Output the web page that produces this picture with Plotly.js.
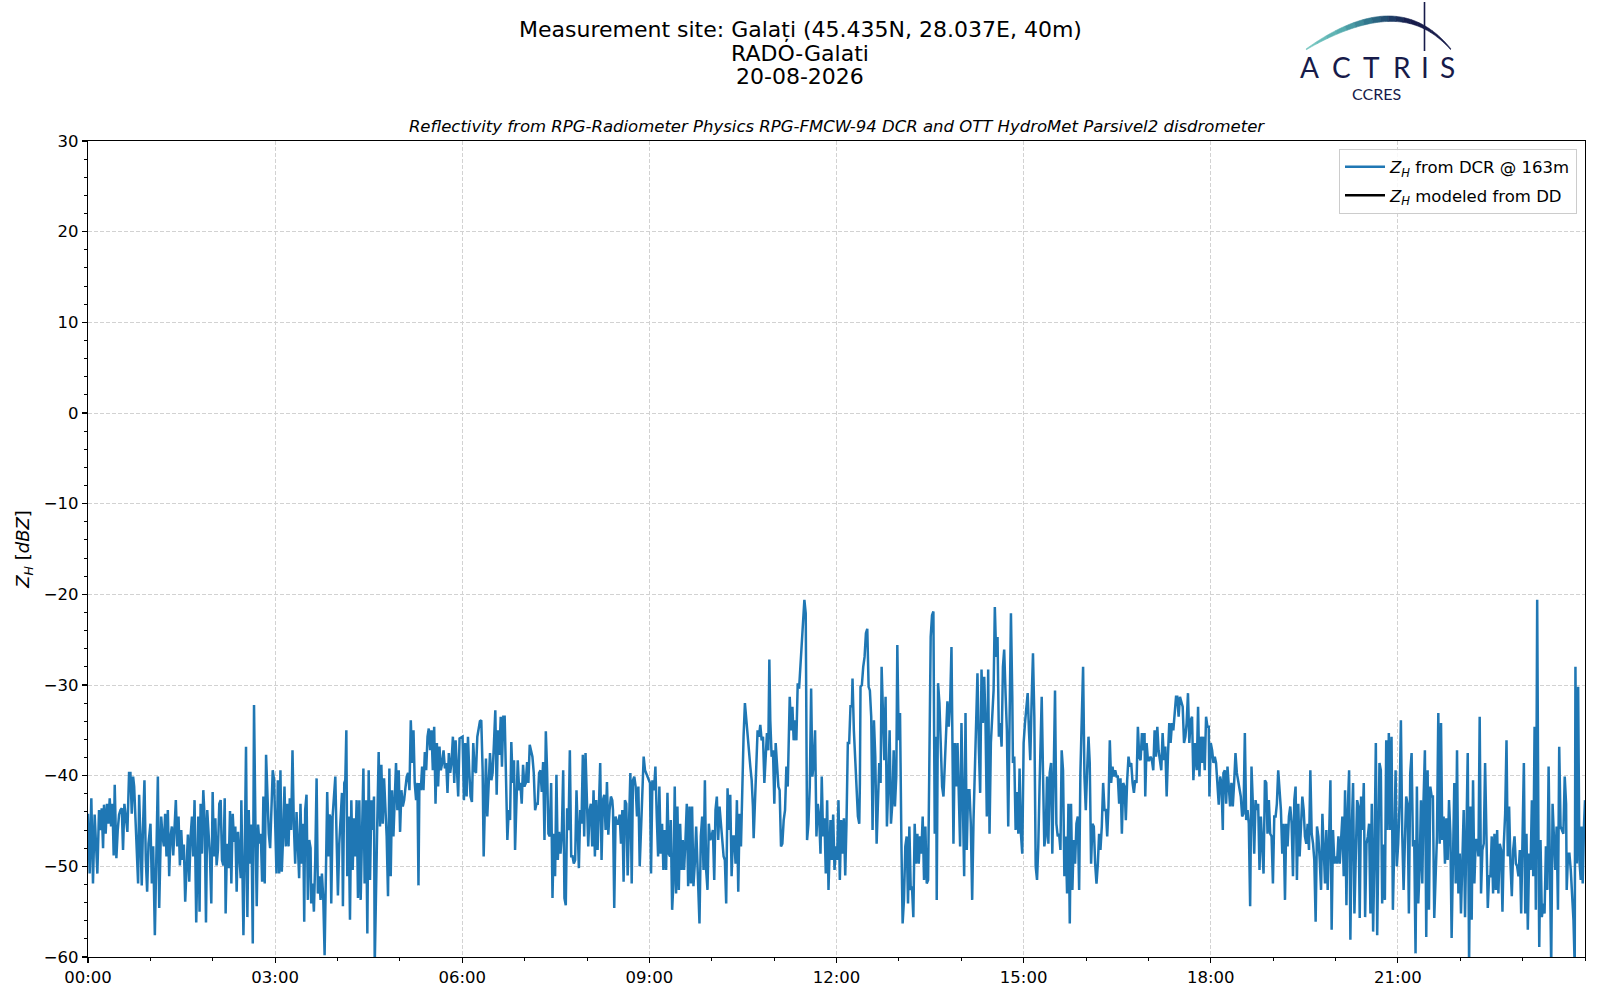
<!DOCTYPE html>
<html>
<head>
<meta charset="utf-8">
<script src="https://cdn.plot.ly/plotly-3.0.1.min.js"></script>
<style>
html,body{margin:0;padding:0;background:#ffffff;}
#chart{width:1600px;height:1000px;}
</style>
</head>
<body>
<div id="chart"></div>
<script>
// ---------------- DATA ----------------
// time of each sample in minutes after 00:00 UTC
const timeMinutes = [
0,1.6,3.2,4.8,6.4,8.0,9.0,10.6,11.9,13.2,14.5,15.4,17.0,18.3,19.6,20.9,22.2,23.5,24.7,25.7,
27.3,28.6,29.9,31.2,32.5,33.7,35.0,36.3,37.9,39.5,40.8,42.1,43.4,44.4,45.6,47.2,48.2,49.2,50.5,51.7,
52.7,54.3,55.6,56.9,58.2,60.1,61.4,62.7,64.3,65.6,67.2,68.5,70.4,71.7,73.0,74.2,75.5,76.8,78.1,79.4,
80.7,82.0,83.2,84.5,85.8,87.1,88.4,89.7,91.0,92.2,93.5,94.8,96.1,97.4,98.7,100.0,101.2,102.5,104.1,106.1,
107.3,108.3,109.6,110.9,112.2,113.5,114.7,116.0,117.3,118.6,119.9,121.2,122.5,123.7,125.0,126.3,127.6,128.9,130.2,131.5,
132.4,133.7,135.3,136.6,137.9,139.2,140.5,141.7,143.0,144.3,145.6,146.9,147.5,149.5,150.7,152.0,153.3,154.6,155.9,157.2,
158.5,159.7,161.0,162.3,163.6,164.9,166.2,167.5,168.7,170.0,171.3,172.6,173.9,175.2,176.5,177.7,179.0,
181.3,182.6,183.9,185.1,186.4,187.7,189.0,190.3,191.6,192.9,194.1,195.4,196.7,198.0,199.3,200.6,201.9,203.1,204.4,205.7,
207.0,208.0,208.9,210.2,211.5,212.8,214.1,214.7,216.0,217.3,218.6,219.9,221.1,222.4,223.7,225.0,226.3,227.6,228.9,230.1,
231.4,232.1,233.0,234.0,235.3,236.6,237.9,239.1,240.4,241.7,243.0,244.3,245.2,246.5,247.5,248.5,249.4,250.7,252.0,253.3,
254.6,255.9,257.1,258.4,259.7,261.0,262.3,263.6,264.9,266.1,267.4,268.7,270.0,271.3,272.6,273.8,275.1,275.8,277.1,278.3,
279.6,280.9,282.2,283.5,284.8,286.1,287.3,288.6,289.9,291.2,292.5,293.8,295.1,296.3,297.6,298.9,300.2,301.5,302.8,304.1,
305.3,306.6,307.9,309.2,310.5,311.8,313.1,314.3,315.6,316.9,317.9,318.8,320.1,321.4,322.7,324.0,325.3,326.6,327.8,329.1,
330.4,331.7,333.0,334.3,335.6,336.8,338.1,339.4,340.7,342.0,343.3,344.6,345.8,347.1,348.4,349.7,351.0,352.3,353.6,354.8,
356.1,357.4,
360.3,361.6,362.9,364.2,365.5,366.7,368.0,369.3,370.6,371.9,373.2,374.5,375.7,377.0,378.3,379.6,380.6,381.9,382.8,384.1,
385.4,386.7,388.0,389.2,390.5,391.8,393.1,394.4,395.7,397.0,398.2,399.5,400.8,402.1,403.4,404.7,406.0,407.2,408.5,409.8,
410.8,412.1,413.4,414.7,415.9,417.2,418.5,419.8,421.1,422.4,423.6,424.9,426.2,427.5,428.8,430.1,431.4,432.6,433.9,435.2,
436.5,437.8,439.1,440.4,441.6,442.9,444.2,445.5,446.8,448.1,449.3,450.6,451.9,453.2,454.5,455.8,457.1,458.3,459.6,460.9,
462.2,463.5,464.8,466.1,467.3,468.6,469.9,471.2,472.2,473.5,474.7,476.0,477.3,478.6,479.9,481.2,482.5,483.7,485.0,486.3,
487.6,488.9,490.2,491.5,492.7,494.0,495.3,496.6,497.9,499.2,500.5,501.7,503.0,504.3,505.0,506.2,507.5,508.8,510.1,511.4,
512.7,514.0,515.2,516.5,517.8,519.1,520.4,521.7,523.0,524.2,525.5,526.8,528.1,529.4,530.7,532.0,533.2,534.5,535.8,
540.6,541.6,542.9,544.5,545.8,547.1,548.4,549.6,550.9,552.2,553.5,554.8,556.1,557.4,558.6,559.9,560.6,561.9,563.1,564.4,
565.7,567.0,568.3,569.6,570.9,572.1,573.4,574.7,576.0,577.3,578.6,579.9,581.1,582.4,583.7,585.0,586.3,587.6,588.2,589.5,
590.8,592.1,593.4,594.6,595.9,597.2,598.5,599.8,601.1,602.4,603.6,604.9,606.2,607.5,608.8,610.1,611.4,612.6,613.9,615.2,
616.5,617.8,619.1,620.4,621.6,622.9,624.2,625.5,626.8,628.1,629.4,630.6,631.9,633.2,634.5,635.8,637.1,638.4,639.6,640.3,
641.6,642.9,644.1,645.4,646.7,648.0,649.3,650.6,651.8,653.1,654.4,655.4,656.3,657.6,658.9,660.2,661.5,662.8,664.1,665.3,
666.6,667.9,669.2,670.5,671.8,673.1,674.3,675.0,676.3,677.6,678.8,680.1,681.4,682.7,684.0,685.3,686.6,687.8,689.1,690.4,
691.7,693.0,694.3,695.6,696.8,698.1,699.4,700.7,702.0,703.3,704.6,705.8,707.1,708.4,709.7,711.0,712.3,
714.2,715.5,716.8,718.1,719.4,720.6,721.9,723.2,724.5,725.8,727.1,728.4,729.6,730.9,732.2,733.5,734.8,735.4,736.7,738.0,
739.3,740.6,741.9,742.5,743.1,744.4,745.7,747.0,748.3,749.6,750.9,752.1,753.4,754.7,756.0,757.3,758.6,759.9,761.1,762.4,
763.4,764.7,766.0,767.2,768.5,769.8,771.1,772.4,773.7,775.0,776.2,777.5,778.5,779.8,781.1,782.4,783.6,784.9,786.2,787.5,
788.8,790.1,791.4,792.6,793.9,795.2,796.5,797.8,799.1,800.4,801.6,802.9,804.2,805.5,806.8,808.1,809.4,810.6,811.9,813.2,
814.5,815.8,816.4,817.7,819.0,820.3,821.6,822.9,824.1,825.4,826.7,828.0,829.3,830.6,831.9,832.5,833.8,835.1,836.4,837.6,
838.9,840.2,841.5,842.8,844.1,845.3,846.6,847.9,849.2,850.5,851.8,853.1,854.3,855.6,856.9,858.2,859.5,860.8,862.1,863.3,
864.6,865.9,867.2,868.5,869.8,871.1,872.3,873.6,874.9,876.2,877.5,878.8,880.1,881.3,882.6,883.9,885.2,886.5,887.8,889.1,
889.7,891.0,892.3,893.6,894.9,896.1,897.4,898.7,900.0,901.3,902.6,903.9,905.1,906.4,907.7,909.0,910.3,911.6,912.9,914.1,
915.4,916.7,917.4,918.6,919.9,921.2,922.5,923.8,925.1,926.4,927.6,928.9,930.2,931.5,932.8,934.1,935.4,936.6,937.9,939.2,
940.5,941.8,943.1,944.4,945.6,946.9,948.2,949.5,950.8,952.1,953.4,954.6,955.9,957.2,958.5,959.8,961.1,962.4,963.6,964.9,
966.2,967.5,968.8,970.1,971.4,972.6,973.9,975.2,976.5,977.8,979.1,980.4,981.6,982.9,984.2,985.5,986.8,988.1,989.4,990.6,
991.9,993.2,994.5,995.8,997.1,998.3,999.6,1000.9,1002.2,1003.5,1004.8,1006.1,1007.3,1008.6,1009.9,1011.2,1012.5,1013.8,1015.1,1016.3,
1017.0,1018.3,1019.6,1020.8,1022.1,1023.4,1024.7,1026.0,1027.3,1028.6,1029.8,1031.1,1032.4,1033.7,1035.0,1036.3,1037.6,1038.8,1040.1,1041.4,
1042.7,1044.0,1045.3,1046.6,1047.8,1049.1,1050.4,1051.7,1053.0,1054.3,1055.6,1056.8,1058.1,1059.4,1060.7,1062.0,1063.3,1064.6,
1065.2,1066.5,1067.8,1069.1,1070.4,1071.6,1072.9,1074.2,1075.5,1076.8,1078.1,1078.7,1080.0,1081.3,1082.6,1083.9,1085.1,1086.4,1087.7,1089.0,
1090.3,1091.6,1092.2,1093.5,1094.8,1096.1,1097.4,1098.6,1099.9,1101.2,1102.5,1103.8,1105.1,1106.4,1107.6,1108.9,1110.2,1111.5,1112.8,1114.1,
1115.4,1116.6,1117.9,1119.2,1120.5,1121.8,1123.1,1124.4,1125.6,1126.9,1128.2,1129.5,1130.8,1132.1,1133.4,1134.6,1135.9,1137.2,1138.5,1139.8,
1141.1,1142.4,1143.6,1144.9,1146.2,1147.5,1148.8,1150.1,1151.4,1152.6,1153.9,1155.2,1156.5,1157.8,1159.1,1160.4,1161.6,1162.9,1164.2,1165.5,
1166.8,1168.1,1169.4,1170.6,1171.9,1173.2,1174.5,1175.8,1177.1,1178.4,1179.6,1180.9,1182.2,1183.5,1184.8,1186.1,1187.4,1188.6,1189.9,1191.2,
1192.5,1193.8,1195.1,1196.3,1197.6,1198.9,1200.2,1201.5,1202.8,1204.1,1205.3,1206.6,1207.9,1209.2,1210.5,1211.8,1213.1,1214.3,1215.6,1216.9,
1218.2,1219.5,1220.8,1222.1,1223.3,1224.6,1225.9,1227.2,1228.5,1229.8,1231.1,1232.3,1233.6,1234.9,1236.2,1237.5,1238.8,1240.1,1241.4,
1242.3,1243.6,1244.9,1246.2,1247.5,1248.8,1250.0,1251.3,1252.6,1253.9,1255.2,1256.5,1257.8,1259.0,1260.3,1261.6,1262.9,1264.2,1265.5,1266.7,
1268.0,1269.3,1270.6,1271.9,1273.2,1274.5,1275.7,1277.0,1278.3,1279.6,1280.9,1282.2,1283.5,1284.7,1286.0,1287.3,1288.6,1289.9,1291.2,1292.5,
1293.7,1295.0,1296.3,1297.6,1298.9,1300.2,1301.5,1302.7,1304.0,1305.3,1306.6,1307.9,1309.2,1310.5,1311.7,1313.0,1314.3,1315.6,1316.9,1318.2,
1319.5,1320.7,1322.0,1323.3,1324.6,1325.9,1327.2,1328.5,1329.7,1331.0,1332.3,1333.6,1334.9,1336.2,1337.5,1338.7,1340.0,1341.3,1342.6,1343.9,
1345.2,1346.5,1347.7,1349.0,1350.3,1351.6,1352.9,1354.2,1355.5,1356.7,1358.0,1359.3,1360.6,1361.9,1363.2,1364.5,1365.7,1367.0,1368.3,1369.6,
1370.9,1372.2,1373.5,1374.7,1376.0,1377.3,1378.6,1379.9,1381.2,1382.5,1383.7,1385.0,1386.3,1387.6,1388.9,1390.2,1391.5,1392.7,1394.0,1395.3,
1396.0,1397.2,1398.5,1399.8,1401.1,1402.4,1403.7,1405.0,1406.2,1407.5,1408.8,1410.1,1411.4,1412.7,1414.0,1415.2,1416.5,
1419.2,1420.5,1421.8,1422.4,1423.7,1425.0,1426.3,1427.6,1428.9,1430.1,1430.8,1432.1,1433.4,1434.6,1435.9,1436.6,1437.8,1439.1,1440.0
];

// Z_H reflectivity from the cloud radar at 163 m [dBZ]
const zhDCR = [
-44.2,-50.8,-42.5,-51.9,-44.3,-49.7,-50.8,-43.8,-46.0,-43.6,-48.0,-43.2,-46.4,-43.1,-45.3,-42.5,-45.6,-43.1,-48.8,-41.0,
-49.1,-46.0,-44.3,-43.8,-43.6,-48.2,-43.1,-44.5,-46.2,-39.7,-39.7,-44.2,-40.1,-41.2,-44.9,-49.7,-51.9,-42.1,-49.3,-52.1,
-46.5,-40.5,-49.3,-52.8,-47.5,-45.3,-51.9,-47.8,-57.6,-47.5,-40.1,-54.6,-44.5,-46.7,-47.8,-44.2,-48.9,-43.8,-51.1,-46.7,
-45.6,-48.8,-45.8,-42.7,-47.8,-44.5,-49.9,-46.0,-49.3,-47.6,-53.9,-50.4,-46.5,-51.7,-46.7,-44.5,-48.9,-42.7,-56.2,-44.5,
-55.0,-43.1,-48.6,-41.6,-44.7,-56.2,-43.8,-46.4,-48.8,-54.1,-41.8,-48.9,-44.7,-49.9,-48.2,-43.1,-42.7,-49.3,-49.9,-42.5,
-55.2,-47.5,-50.2,-43.9,-51.9,-44.2,-47.3,-45.6,-52.8,-46.2,-48.9,-51.3,-42.7,-57.6,-49.3,-36.8,-55.6,-43.8,-49.7,-45.4,
-58.5,-32.2,-44.9,-54.4,-45.4,-47.5,-46.4,-51.7,-42.3,-51.9,-37.7,-43.2,-46.4,-48.0,-42.3,-39.4,-40.5,
-50.8,-40.5,-50.8,-39.4,-50.6,-46.7,-41.2,-47.8,-43.1,-47.8,-42.5,-46.0,-37.2,-45.3,-49.7,-44.0,-48.2,-51.3,-43.1,-49.7,
-45.3,-56.1,-43.8,-42.1,-53.7,-47.1,-48.0,-54.1,-51.9,-55.0,-49.3,-40.3,-53.0,-51.1,-53.7,-50.8,-53.5,-59.8,-50.4,-41.8,
-48.9,-44.3,-44.5,-54.1,-44.5,-42.7,-40.1,-46.7,-53.2,-47.5,-44.5,-41.9,-54.4,-40.8,-40.5,-35.0,-51.1,-44.5,-55.9,-42.7,
-50.4,-44.7,-48.9,-42.7,-53.5,-42.7,-53.7,-46.4,-39.2,-51.9,-42.7,-57.4,-39.4,-51.5,-42.7,-46.0,-42.3,-61.0,-50.8,-44.9,
-37.4,-45.6,-38.8,-45.3,-40.3,-43.1,-46.7,-53.3,-39.2,-51.1,-41.6,-46.7,-40.8,-38.6,-43.8,-39.4,-46.2,-41.6,-43.4,-42.7,
-41.4,-40.1,-39.7,-41.6,-33.9,-38.6,-35.0,-40.8,-42.7,-40.8,-52.1,-40.8,-41.6,-39.0,-41.6,-37.4,-39.4,-35.7,-34.8,-37.2,
-35.0,-39.4,-34.6,-43.1,-36.4,-41.2,-36.8,-39.4,-38.6,-37.2,-39.2,-38.6,-41.9,-37.5,-39.7,-38.5,-35.7,-40.8,-36.1,-39.4,
-42.3,-35.9,
-35.7,-42.7,-36.4,-42.3,-35.7,-39.4,-42.3,-42.9,-36.4,-39.4,-39.7,-35.7,-35.0,-34.0,-33.9,-39.4,-48.9,-43.1,-38.1,-44.5,
-39.7,-37.5,-40.5,-39.7,-36.4,-32.8,-42.1,-35.0,-37.7,-33.5,-39.0,-33.5,-33.5,-39.0,-47.1,-43.8,-44.9,-36.3,-40.8,-38.3,
-48.2,-43.1,-38.3,-41.6,-40.8,-43.1,-38.8,-41.2,-40.8,-38.5,-40.8,-36.6,-37.5,-37.9,-39.7,-43.8,-43.1,-43.1,-39.7,-39.4,
-41.8,-38.5,-47.1,-35.1,-39.4,-46.4,-46.7,-40.8,-53.5,-46.4,-51.1,-39.9,-49.3,-46.2,-48.6,-46.4,-39.4,-53.5,-54.3,-43.6,
-46.0,-37.2,-48.9,-48.9,-49.7,-49.3,-41.6,-47.5,-50.2,-43.8,-45.3,-37.7,-46.7,-37.5,-43.8,-47.8,-43.8,-43.1,-47.8,-41.6,
-48.9,-42.7,-48.2,-41.9,-38.6,-49.3,-42.7,-42.1,-46.0,-40.7,-46.5,-43.8,-42.3,-42.7,-43.8,-54.6,-44.5,-45.3,-45.3,-44.3,
-47.5,-43.8,-51.7,-42.7,-43.1,-51.0,-43.8,-39.7,-51.9,-40.5,-40.1,-41.2,-44.5,-41.2,-50.0,-45.6,-43.8,-37.9,-39.4,
-40.8,-50.8,-40.5,-41.6,-39.0,-44.5,-48.9,-41.2,-48.6,-45.3,-50.4,-46.0,-50.4,-41.9,-48.6,-48.9,-44.9,-54.8,-51.9,-41.2,
-53.0,-43.4,-52.6,-45.3,-50.4,-47.1,-50.4,-47.1,-43.1,-52.2,-43.4,-51.9,-43.4,-52.2,-49.7,-45.6,-50.4,-53.7,-56.3,-46.7,
-44.5,-50.4,-40.5,-50.4,-52.6,-45.3,-47.1,-46.7,-46.0,-51.5,-43.8,-42.3,-47.1,-43.4,-45.3,-46.7,-48.9,-49.3,-54.1,-41.4,
-46.0,-42.1,-51.1,-46.7,-46.7,-49.7,-42.7,-52.8,-44.2,-47.8,-40.8,-35.7,-32.0,-33.9,-35.7,-37.9,-39.0,-40.5,-43.4,-46.9,
-42.3,-38.6,-35.0,-35.7,-34.4,-36.1,-35.7,-40.8,-37.9,-35.3,-37.2,-27.2,-33.9,-37.9,-37.2,-43.1,-36.4,-38.6,-41.2,-41.6,
-47.8,-47.5,-44.9,-43.8,-39.0,-41.2,-35.0,-31.3,-35.0,-32.4,-36.1,-33.9,-36.1,-29.8,-30.4,-27.6,-25.8,-22.1,-20.6,-22.1,
-47.1,-45.3,-41.2,-30.4,-40.1,-38.6,-35.0,-46.7,-43.1,-44.5,-48.6,-40.1,-46.7,-44.7,-50.8,-42.7,-52.6,
-44.9,-49.3,-44.3,-50.4,-47.8,-49.3,-42.7,-51.5,-44.9,-48.6,-44.7,-51.0,-45.3,-36.4,-36.4,-32.2,-32.4,-29.3,-35.0,-37.9,
-40.8,-44.5,-45.3,-40.8,-30.2,-30.0,-28.0,-26.9,-24.3,-23.8,-30.2,-30.6,-33.5,-46.0,-33.9,-37.9,-47.5,-41.2,-38.6,-40.8,
-28.0,-33.1,-38.3,-31.3,-45.6,-41.2,-35.0,-45.3,-43.1,-37.2,-43.4,-40.1,-25.6,-36.1,-33.1,-47.1,-56.3,-53.7,-47.8,-46.7,
-54.1,-45.6,-52.6,-52.2,-55.6,-45.3,-49.7,-46.4,-49.7,-46.7,-48.6,-44.5,-51.5,-45.6,-51.9,-51.5,-32.0,-24.7,-22.3,-21.9,
-46.4,-35.7,-53.7,-29.8,-32.0,-36.4,-41.2,-42.3,-38.6,-34.6,-31.8,-34.6,-32.0,-25.8,-37.9,-47.5,-36.4,-41.2,-36.4,-42.7,
-47.8,-34.2,-41.6,-51.1,-33.1,-48.2,-41.6,-41.6,-45.3,-53.7,-44.9,-39.4,-32.8,-28.7,-36.8,-41.9,-28.3,-34.2,-29.1,-33.9,
-44.5,-28.3,-46.4,-36.4,-33.5,-30.6,-21.4,-26.9,-24.7,-35.7,-34.2,-36.8,-28.0,-26.1,-30.9,-35.0,-45.6,-33.9,-22.1,-31.3,
-38.6,-37.9,-46.0,-41.8,-46.4,-39.2,-46.4,-48.6,-36.4,-34.2,-32.0,-30.9,-35.0,-38.3,-31.7,-26.5,-33.5,-50.0,-51.5,-47.8,
-40.8,-33.5,-31.3,-39.4,-47.8,-46.7,-40.1,-47.5,-39.7,-38.6,-48.6,-40.1,-30.6,-45.3,-46.7,-46.4,-48.2,-37.2,-39.4,-51.1,
-46.7,-53.0,-43.1,-56.3,-43.1,-52.6,-47.1,-49.7,-45.3,-44.5,-52.6,-39.7,-34.2,-28.0,-40.1,-43.8,-39.4,-35.7,-38.6,-49.7,
-45.3,-45.6,-49.7,-51.9,-49.7,-46.4,-48.2,-45.6,-40.8,-43.8,-43.8,-46.7,-43.4,-36.1,-40.8,-39.0,-40.1,-39.4,-40.1,-40.1,
-43.1,-40.3,-46.4,-40.8,-41.2,-44.9,-40.5,-37.9,-39.0,-38.6,-40.8,-41.9,-40.5,-40.8,-34.6,-37.9,-38.3,-35.3,-37.2,-35.3,
-42.3,-36.4,-38.3,-38.3,-37.9,-38.3,-39.4,-35.0,-37.9,-34.6,-37.2,-38.3,-39.4,-35.3,-38.3,-36.8,-42.3,-37.9,-34.2,-36.4,
-34.2,-35.0,-33.1,-31.3,-31.3,-33.5,-31.3,-32.0,-32.4,-36.4,-35.7,-34.2,-30.9,-36.4,-33.9,-33.5,-40.5,-36.4,
-37.9,-39.4,-32.4,-40.1,-35.7,-38.6,-35.7,-39.4,-33.5,-34.6,-34.6,-42.3,-36.4,-37.2,-38.6,-37.9,-38.6,-41.6,-43.2,-40.1,
-40.8,-46.0,-39.7,-39.4,-43.1,-39.0,-41.6,-43.4,-40.8,-43.4,-40.8,-37.5,-39.7,-40.8,-41.6,-42.3,-44.5,-44.2,-35.3,-44.9,
-43.8,-45.3,-54.4,-39.0,-43.1,-48.6,-42.7,-43.8,-43.1,-50.4,-44.5,-48.2,-50.8,-40.5,-40.8,-46.4,-42.7,-46.4,-46.7,-51.9,
-44.5,-44.5,-43.1,-39.4,-41.2,-43.8,-48.6,-45.3,-53.7,-45.3,-47.8,-44.5,-43.4,-45.3,-51.1,-42.7,-41.2,-51.5,-43.1,-48.9,
-45.6,-42.3,-43.8,-46.7,-47.5,-45.3,-48.2,-39.4,-46.4,-47.5,-49.3,-56.1,-45.6,-46.7,-49.3,-52.6,-44.2,-47.5,-51.9,-46.0,
-52.6,-47.1,-40.5,-57.0,-46.0,-49.7,-48.9,-49.7,-46.7,-49.7,-46.7,-44.5,-51.1,-41.6,-54.3,-43.8,-39.4,-58.1,-46.0,-40.8,
-55.2,-48.6,-42.7,-43.4,-55.7,-42.3,-46.0,-40.8,-55.6,-47.5,-46.7,-45.3,-55.2,-43.1,-57.2,-48.6,-36.4,-57.6,-43.1,
-38.6,-39.4,-54.1,-47.6,-53.7,-36.1,-46.0,-35.3,-46.0,-35.7,-54.8,-47.8,-39.4,-50.0,-47.5,-43.1,-33.9,-46.4,-52.6,-47.5,
-42.3,-43.1,-55.2,-39.7,-37.5,-47.8,-47.1,-59.6,-41.2,-54.1,-50.4,-42.7,-51.9,-42.7,-37.2,-57.8,-39.4,-54.8,-41.2,-42.3,
-42.3,-55.7,-50.8,-46.7,-33.1,-47.5,-34.2,-47.1,-44.5,-49.7,-44.7,-49.3,-42.7,-46.4,-57.9,-46.7,-40.8,-51.9,-37.2,-53.0,
-48.6,-55.2,-47.5,-43.8,-55.6,-46.0,-37.5,-61.0,-43.4,-55.9,-40.5,-51.9,-47.1,-47.1,-48.9,-33.5,-53.0,-48.2,-47.5,-38.6,
-44.9,-54.6,-51.1,-51.1,-46.7,-53.0,-46.4,-52.6,-46.0,-53.0,-47.5,-48.2,-55.0,-47.5,-44.2,-36.1,-48.9,-43.4,-49.7,-53.3,
-48.2,-46.7,-49.7,-50.0,-51.1,-48.2,-55.2,-43.8,-38.6,-55.2,-46.4,-57.0,-48.6,-50.4,-42.7,-51.1,-34.6,-54.8,-20.6,-48.6,
-58.9,-47.1,-55.6,-54.1,-55.2,-47.8,-52.6,-39.0,-54.1,-61.0,-43.1,-46.0,-50.4,-45.6,-54.8,-36.8,-45.6,
-46.4,-40.1,-43.1,-52.6,-48.6,-48.6,-50.4,-52.6,-55.9,-61.0,-28.0,-49.7,-30.2,-49.3,-51.5,-45.6,-51.9,-45.3,-42.7
];

// Z_H modelled from the disdrometer drop-size distribution: no samples on this day
const ddTimeMinutes = [];
const zhDD = [];

const xTickHours = [0, 3, 6, 9, 12, 15, 18, 21];
const xTickLabels = ['00:00', '03:00', '06:00', '09:00', '12:00', '15:00', '18:00', '21:00'];
const yRange = [-60, 30];

const titleLines = ['Measurement site: Galați (45.435N, 28.037E, 40m)', 'RADO-Galati', '20-08-2026'];
const subtitleText = 'Reflectivity from RPG-Radiometer Physics RPG-FMCW-94 DCR and OTT HydroMet Parsivel2 disdrometer';
const seriesNames = ['<i>Z</i><sub><i>H</i></sub> from DCR @ 163m', '<i>Z</i><sub><i>H</i></sub> modeled from DD'];
const yTitle = '<i>Z</i><sub><i>H</i></sub> [<i>dBZ</i>]';
const logoWord = 'ACTRIS';
const logoSub = 'CCRES';

// ---------------- LAYOUT ----------------
const FIG_W = 1600, FIG_H = 1000;
const M = {l: 88, r: 15, t: 141, b: 43};
const PW = FIG_W - M.l - M.r, PH = FIG_H - M.t - M.b;
const xp = px => (px - M.l) / PW;            // figure pixel -> paper x
const yp = py => (FIG_H - M.b - py) / PH;    // figure pixel -> paper y
const FONT = 'DejaVu Sans, Verdana, sans-serif';
const NAVY = '#171b4a';

// an empty series still needs one (missing) point so that its legend entry is drawn
const ddX = ddTimeMinutes.length ? ddTimeMinutes.map(m => m / 60) : [null];
const ddY = zhDD.length ? zhDD : [null];

const traces = [
  {
    type: 'scatter', mode: 'lines',
    x: timeMinutes.map(m => m / 60), y: zhDCR,
    name: seriesNames[0], legendgroup: 'dcr',
    line: {color: '#1f77b4', width: 2.5},
    hoverinfo: 'skip'
  },
  {
    type: 'scatter', mode: 'lines',
    x: ddX, y: ddY,
    name: seriesNames[1], legendgroup: 'dd',
    line: {color: '#000000', width: 2.5},
    hoverinfo: 'skip'
  }
];

// ---- ACTRIS logo (decoration drawn with shapes + text annotations) ----
function bez(p0, c, p2, t) {
  const u = 1 - t;
  return [u * u * p0[0] + 2 * u * t * c[0] + t * t * p2[0],
          u * u * p0[1] + 2 * u * t * c[1] + t * t * p2[1]];
}
function bezD(p0, c, p2, t) {
  return [2 * (1 - t) * (c[0] - p0[0]) + 2 * t * (p2[0] - c[0]),
          2 * (1 - t) * (c[1] - p0[1]) + 2 * t * (p2[1] - c[1])];
}
function hex2rgb(h) { return [1, 3, 5].map(i => parseInt(h.substr(i, 2), 16)); }
function gradColor(t) {
  const stops = [[0, '#78c9c2'], [0.2, '#55abae'], [0.38, '#2d7189'], [0.52, '#1f3f68'], [0.66, NAVY], [1, NAVY]];
  for (let i = 1; i < stops.length; i++) {
    if (t <= stops[i][0]) {
      const a = stops[i - 1], b = stops[i];
      const f = (t - a[0]) / (b[0] - a[0] || 1);
      const ca = hex2rgb(a[1]), cb = hex2rgb(b[1]);
      const c = ca.map((v, k) => Math.round(v + (cb[k] - v) * f));
      return 'rgb(' + c.join(',') + ')';
    }
  }
  return NAVY;
}
const arc = {p0: [1306, 49], c: [1398, -17], p2: [1451, 49]};
function arcThickness(t) { return 0.8 + 5.6 * Math.sin(Math.PI * t) * (1.2 - 0.75 * t); }
function arcPoint(t, inner) {
  const p = bez(arc.p0, arc.c, arc.p2, t);
  if (!inner) return p;
  const d = bezD(arc.p0, arc.c, arc.p2, t);
  const n = Math.hypot(d[0], d[1]);
  const th = arcThickness(t);
  return [p[0] - d[1] / n * th, p[1] + d[0] / n * th];
}
const shapes = [];
const NSEG = 18;
for (let s = 0; s < NSEG; s++) {
  const ta = s / NSEG, tb = (s + 1) / NSEG;
  const pts = [];
  for (let k = 0; k <= 4; k++) pts.push(arcPoint(ta + (tb - ta) * k / 4, false));
  for (let k = 4; k >= 0; k--) pts.push(arcPoint(ta + (tb - ta) * k / 4, true));
  const d = 'M ' + pts.map(p => xp(p[0]).toFixed(5) + ',' + yp(p[1]).toFixed(5)).join(' L ') + ' Z';
  const col = gradColor((ta + tb) / 2);
  shapes.push({type: 'path', xref: 'paper', yref: 'paper', path: d,
               fillcolor: col, line: {color: col, width: 0.6}, layer: 'above'});
}
shapes.push({type: 'line', xref: 'paper', yref: 'paper',
             x0: xp(1424.5), x1: xp(1424.5), y0: yp(2), y1: yp(51),
             line: {color: NAVY, width: 1.6}, layer: 'above'});

const annotations = [];
const titleY = [29.3, 53.3, 76];
titleLines.forEach((txt, i) => annotations.push({
  text: txt, xref: 'paper', yref: 'paper', x: xp(800), y: yp(titleY[i]),
  xanchor: 'center', yanchor: 'middle', showarrow: false,
  font: {family: FONT, size: 22, color: '#000000'}
}));
const letterX = [1309, 1341, 1371.5, 1401.5, 1424.5, 1447.5];
logoWord.split('').forEach((ch, i) => annotations.push({
  text: ch, xref: 'paper', yref: 'paper', x: xp(letterX[i]), y: yp(67.5),
  xanchor: 'center', yanchor: 'middle', showarrow: false, borderpad: 0,
  font: {family: 'Lato, Noto Sans, sans-serif', size: 28, color: NAVY}
}));
annotations.push({
  text: logoSub, xref: 'paper', yref: 'paper', x: xp(1376.5), y: yp(94),
  xanchor: 'center', yanchor: 'middle', showarrow: false, borderpad: 0,
  font: {family: 'Lato, Noto Sans, sans-serif', size: 16, color: NAVY}
});

const axisCommon = {
  showline: true, linecolor: '#000000', linewidth: 1.2, mirror: true,
  ticks: 'outside', ticklen: 5, tickwidth: 1.2, tickcolor: '#000000',
  tickfont: {family: FONT, size: 16.5, color: '#000000'},
  showgrid: true, gridcolor: '#d2d2d2', gridwidth: 1, griddash: '4px,2px',
  zeroline: false, fixedrange: true
};

const layout = {
  width: FIG_W, height: FIG_H,
  margin: M,
  paper_bgcolor: '#ffffff', plot_bgcolor: '#ffffff',
  font: {family: FONT, color: '#000000'},
  showlegend: true,
  title: {
    text: subtitleText,
    font: {family: FONT, size: 16.5, style: 'italic', color: '#000000'},
    x: 0.5, xref: 'paper', xanchor: 'center',
    y: 1 - 126.7 / FIG_H, yref: 'container', yanchor: 'middle'
  },
  xaxis: Object.assign({}, axisCommon, {
    range: [0, 24],
    tickmode: 'array', tickvals: xTickHours, ticktext: xTickLabels,
    minor: {tickmode: 'linear', tick0: 0, dtick: 1, ticks: 'outside', ticklen: 3, tickwidth: 1, tickcolor: '#000000', showgrid: false}
  }),
  yaxis: Object.assign({}, axisCommon, {
    range: yRange, tickmode: 'linear', tick0: -60, dtick: 10,
    minor: {tickmode: 'linear', tick0: -60, dtick: 2, ticks: 'outside', ticklen: 3, tickwidth: 1, tickcolor: '#000000', showgrid: false},
    title: {text: yTitle, font: {family: FONT, size: 18, color: '#000000'}, standoff: 9}
  }),
  legend: {
    x: xp(1577), xanchor: 'right', y: yp(148.5), yanchor: 'top',
    traceorder: 'grouped', tracegroupgap: 4, itemwidth: 40,
    bgcolor: 'rgba(255,255,255,0.85)', bordercolor: '#cccccc', borderwidth: 1,
    font: {family: FONT, size: 16.5, color: '#000000'}
  },
  shapes: shapes,
  annotations: annotations
};

Plotly.newPlot('chart', traces, layout, {displayModeBar: false, staticPlot: true});
</script>
</body>
</html>
